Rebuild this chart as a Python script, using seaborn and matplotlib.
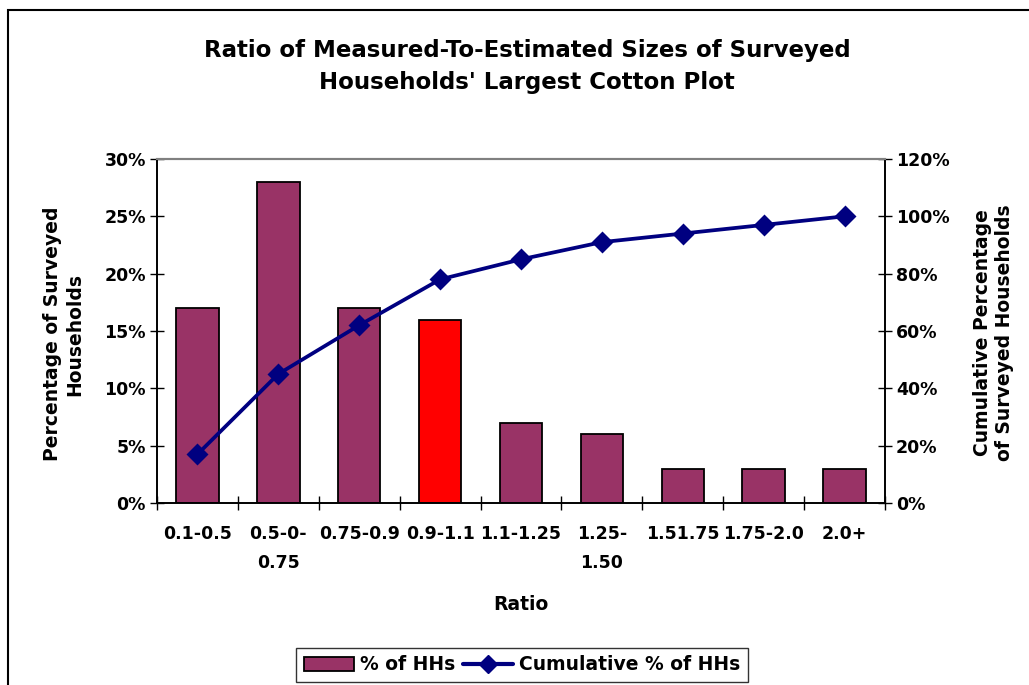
import matplotlib
matplotlib.use("Agg")
import matplotlib.pyplot as plt
import seaborn as sns
import pandas as pd
import numpy as np
from matplotlib.patches import Rectangle, Patch
from matplotlib.ticker import FixedLocator, PercentFormatter
from matplotlib.lines import Line2D

categories = ["0.1-0.5", "0.5-0-\n0.75", "0.75-0.9", "0.9-1.1", "1.1-1.25",
              "1.25-\n1.50", "1.51.75", "1.75-2.0", "2.0+"]
pct_hh = [0.17, 0.28, 0.17, 0.16, 0.07, 0.06, 0.03, 0.03, 0.03]
cum_pct_hh = [0.17, 0.45, 0.62, 0.78, 0.85, 0.91, 0.94, 0.97, 1.00]
bar_colors = ["#993366", "#993366", "#993366", "#FF0000", "#993366",
              "#993366", "#993366", "#993366", "#993366"]

df = pd.DataFrame({"cat": categories, "pct": pct_hh, "cum": cum_pct_hh})

sns.set_theme(style="white")
plt.rcParams['font.family'] = ['DejaVu Sans']
plt.rcParams['font.weight'] = 'bold'
plt.rcParams['text.color'] = 'black'
plt.rcParams['axes.labelcolor'] = 'black'
plt.rcParams['xtick.color'] = 'black'
plt.rcParams['ytick.color'] = 'black'

W, H = 1029, 685
fig = plt.figure(figsize=(W / 100, H / 100), dpi=100)
fig.patch.set_facecolor("white")
ax = fig.add_axes([157 / W, 1 - 503 / H, (885 - 157) / W, (503 - 159) / H])

sns.barplot(data=df, x="cat", y="pct", hue="cat", palette=bar_colors,
            legend=False, width=0.526, edgecolor="black", linewidth=1.3,
            saturation=1, ax=ax)

ax2 = ax.twinx()
sns.pointplot(data=df, x="cat", y="cum", color="#000080", markers="D",
              linestyles="-", markersize=9.5, linewidth=2.7, ax=ax2)

n = len(categories)
for a in (ax, ax2):
    a.set_xlim(-0.5, n - 0.5)
    a.set_xlabel("")
    a.set_ylabel("")

ax.set_ylim(0, 0.30)
ax.set_yticks(np.arange(0, 0.301, 0.05))
ax.yaxis.set_major_formatter(PercentFormatter(1.0, decimals=0))
ax2.set_ylim(0, 1.2)
ax2.set_yticks(np.arange(0, 1.201, 0.2))
ax2.yaxis.set_major_formatter(PercentFormatter(1.0, decimals=0))

TICK_FS = 12.5
ax.xaxis.set_major_locator(FixedLocator(np.arange(-0.5, n, 1.0)))
ax.set_xticklabels([""] * (n + 1))
ax.xaxis.set_minor_locator(FixedLocator(np.arange(0, n, 1.0)))
ax.set_xticklabels(categories, minor=True)
ax.tick_params(axis="x", which="minor", length=0, pad=16, labelsize=TICK_FS)
ax.tick_params(axis="x", which="major", direction="inout", length=10,
               width=1, color="black", bottom=True)
ax.tick_params(axis="y", direction="inout", length=10, width=1,
               color="black", labelsize=TICK_FS, pad=3, left=True)
ax2.tick_params(axis="y", direction="inout", length=10, width=1,
                color="black", labelsize=TICK_FS, pad=3, right=True)
ax2.tick_params(axis="x", length=0)
for lab in ax.get_xticklabels(minor=True):
    lab.set_fontweight("bold")
    lab.set_linespacing(1.8)
for lab in ax.get_yticklabels() + ax2.get_yticklabels():
    lab.set_fontweight("bold")

for a in (ax, ax2):
    for s in ("left", "right", "bottom"):
        a.spines[s].set_color("black")
        a.spines[s].set_linewidth(1.2)
    a.spines["top"].set_color("#808080")
    a.spines["top"].set_linewidth(1.5)
ax.patch.set_alpha(0)
ax2.set_zorder(ax.get_zorder() + 1)

fig.text(527 / W, 1 - 67 / H,
         "Ratio of Measured-To-Estimated Sizes of Surveyed\nHouseholds' Largest Cotton Plot",
         ha="center", va="center", fontsize=16.5, fontweight="bold",
         linespacing=1.5)
fig.text(64 / W, 1 - 334 / H, "Percentage of Surveyed\nHouseholds",
         ha="center", va="center", rotation=90, fontsize=13.5,
         fontweight="bold", linespacing=1.2)
fig.text(993 / W, 1 - 333 / H, "Cumulative Percentage\nof Surveyed Households",
         ha="center", va="center", rotation=90, fontsize=13.5,
         fontweight="bold", linespacing=1.2)
fig.text(521 / W, 1 - 604 / H, "Ratio", ha="center", va="center",
         fontsize=13.5, fontweight="bold")

handles = [Patch(facecolor="#993366", edgecolor="black", linewidth=1.3),
           Line2D([0], [0], color="#000080", lw=3, marker="D", markersize=9)]
leg = fig.legend(handles, ["% of HHs", "Cumulative % of HHs"],
                 loc="center", bbox_to_anchor=(522 / W, 1 - 665 / H),
                 ncol=2, frameon=True, fancybox=False,
                 handlelength=2.7, handletextpad=0.3, columnspacing=0.4,
                 borderpad=0.4, prop={"weight": "bold", "size": 13.5})
leg.get_frame().set_edgecolor("black")
leg.get_frame().set_linewidth(1.0)

fig.patches.append(Rectangle((8 / W, -0.1), 1.2, 1 - 10 / H + 0.1,
                             transform=fig.transFigure, fill=False,
                             edgecolor="black", linewidth=1.5))

fig.savefig("out.png", dpi=100)
